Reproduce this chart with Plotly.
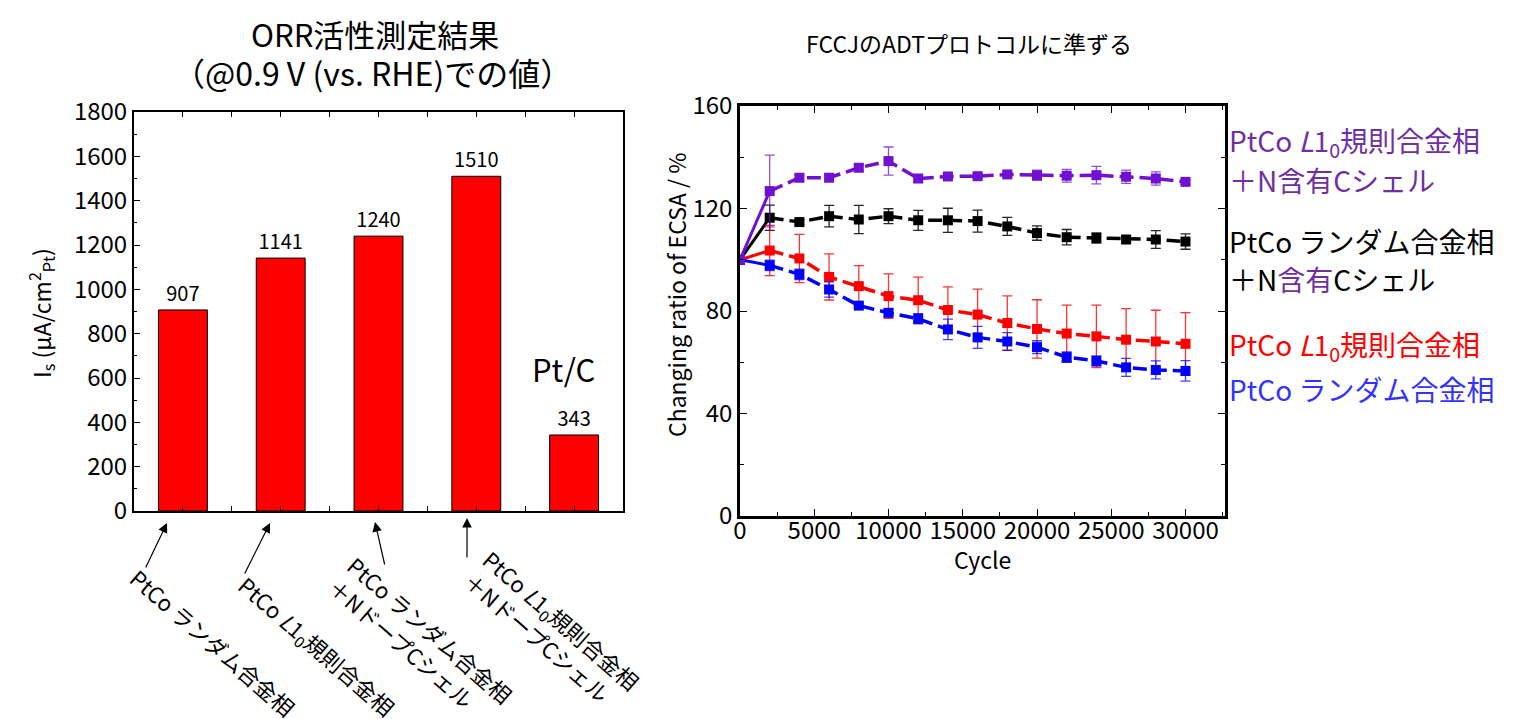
import plotly.graph_objects as go

W, H = 1519, 719
FONT = "Noto Sans CJK JP"

# ---------------- Left chart data ----------------
bar_values = [907, 1141, 1240, 1510, 343]
bar_names = [
    "PtCo ランダム合金相",
    "PtCo <i>L</i>1<sub>0</sub>規則合金相",
    "PtCo ランダム合金相<br>＋NドープCシェル",
    "PtCo <i>L</i>1<sub>0</sub>規則合金相<br>＋NドープCシェル",
    "Pt/C",
]
left_yticks = [0, 200, 400, 600, 800, 1000, 1200, 1400, 1600, 1800]

# ---------------- Right chart data ----------------
cycles = [0, 2000, 4000, 6000, 8000, 10000, 12000, 14000, 16000, 18000,
          20000, 22000, 24000, 26000, 28000, 30000]
purple = [100, 126.8, 132.0, 132.0, 135.9, 138.5, 131.7, 132.5, 132.6, 133.3,
          133.0, 132.8, 133.0, 132.4, 131.7, 130.4]
purple_err = [0, 14, 1, 1, 1, 5.5, 1.5, 1, 1, 1, 2, 2.5, 3.4, 2.6, 2.6, 1]
black = [100, 116.4, 114.7, 117.0, 115.7, 117.0, 115.4, 115.4, 115.1, 113.0,
         110.4, 108.8, 108.5, 107.9, 107.9, 107.1]
black_err = [0, 4.9, 1, 4.2, 5.5, 2.9, 3.9, 4.7, 4.3, 3.5, 2.8, 3, 2, 1.5, 3.5, 3]
red = [100, 103.6, 100.5, 93.3, 89.7, 85.8, 84.2, 80.4, 78.6, 75.3,
       73.0, 71.2, 70.1, 68.8, 68.1, 67.2]
red_err = [0, 9.8, 9.4, 9, 8, 8.7, 9, 9, 9.9, 10.6, 11.4, 11.1, 12.2, 12.1, 12.2, 12.2]
blue = [100, 97.8, 94.3, 88.4, 82.1, 79.3, 77.0, 72.8, 69.7, 68.1,
        65.9, 62.0, 60.5, 58.0, 57.0, 56.6]
blue_err = [0.5, 2, 2, 3, 1, 1.5, 2, 4, 4.3, 3.5, 2.5, 2, 2, 3.5, 3.5, 4]

series = [
    ("black", black, black_err, "#000000", "rgba(0,0,0,0.85)"),
    ("red", red, red_err, "#FF0000", "rgba(255,0,0,0.8)"),
    ("blue", blue, blue_err, "#0000FF", "rgba(0,0,255,0.75)"),
    ("purple", purple, purple_err, "#7010D0", "rgba(112,16,208,0.75)"),
]


def X(px):
    return px / W


def Y(py):
    return 1 - py / H


fig = go.Figure()

# Bars
fig.add_trace(go.Bar(
    x=list(range(len(bar_values))), y=bar_values,
    width=0.5,
    marker=dict(color="#FF0000", line=dict(color="#000000", width=1)),
    text=[str(v) for v in bar_values], textposition="outside",
    textfont=dict(family=FONT, size=20, color="#000"),
    cliponaxis=False, showlegend=False,
    xaxis="x", yaxis="y",
))

# Lines
for name, vals, errs, col, ecol in series:
    # first segment solid
    fig.add_trace(go.Scatter(
        x=cycles[:2], y=vals[:2], mode="lines",
        line=dict(color=col, width=3),
        showlegend=False, xaxis="x2", yaxis="y2", hoverinfo="skip",
    ))
    fig.add_trace(go.Scatter(
        x=cycles[1:], y=vals[1:], mode="lines",
        line=dict(color=col, width=3.5, dash="14px,6px"),
        showlegend=False, xaxis="x2", yaxis="y2", hoverinfo="skip",
    ))
    fig.add_trace(go.Scatter(
        x=cycles, y=vals, mode="markers",
        marker=dict(symbol="square", size=10, color=col),
        error_y=dict(type="data", array=errs, visible=True,
                     color=ecol, thickness=1.3, width=5),
        showlegend=False, xaxis="x2", yaxis="y2", name=name,
    ))

axis_common = dict(showline=True, linecolor="#000", ticks="inside",
                   tickcolor="#000", showgrid=False, zeroline=False,
                   automargin=False)

fig.update_layout(
    width=W, height=H,
    margin=dict(l=0, r=0, t=0, b=0, pad=0, autoexpand=False),
    paper_bgcolor="white", plot_bgcolor="white",
    font=dict(family=FONT, color="#000"),
    xaxis=dict(domain=[X(126), X(615)], range=[-0.5, 4.5],
               tick0=-0.5, dtick=0.5, ticklen=5, linewidth=2,
               showticklabels=False, mirror="ticks", anchor="y", **axis_common),
    yaxis=dict(domain=[Y(503), Y(104)], range=[0, 1800],
               tickvals=left_yticks, ticklen=6, linewidth=2, mirror=True,
               tickfont=dict(size=24, family=FONT),
               minor=dict(dtick=100, ticks="inside", ticklen=3, tickcolor="#000"),
               anchor="x", **axis_common),
    xaxis2=dict(domain=[X(732), X(1217)], range=[0, 32660],
                dtick=5000, ticklen=7, linewidth=2.5, mirror="ticks",
                tickformat="d", ticklabelstandoff=-9,
                tickfont=dict(size=24, family=FONT),
                minor=dict(dtick=2500, ticks="inside", ticklen=4, tickcolor="#000"),
                anchor="y2", **axis_common),
    yaxis2=dict(domain=[Y(508), Y(98)], range=[0, 160],
                dtick=40, ticklen=7, linewidth=2.5, mirror="ticks",
                tickfont=dict(size=24, family=FONT),
                minor=dict(dtick=20, ticks="inside", ticklen=4, tickcolor="#000"),
                anchor="x2", **axis_common),
)

ann = []
# Titles
ann.append(dict(text="ORR活性測定結果", x=X(367), y=Y(25), font=dict(size=31)))
ann.append(dict(text="（@0.9 V (vs. RHE)での値）", x=X(364), y=Y(64), font=dict(size=32)))
ann.append(dict(text="FCCJのADTプロトコルに準ずる", x=X(961), y=Y(35), font=dict(size=23)))
# Axis titles
ann.append(dict(text="I<sub>s</sub> (μA/cm<sup>2</sup><sub>Pt</sub>)", x=X(33), y=Y(305),
                textangle=-90, font=dict(size=23)))
ann.append(dict(text="Changing ratio of ECSA / %", x=X(668), y=Y(287),
                textangle=-90, font=dict(size=23)))
ann.append(dict(text="Cycle", x=X(974), y=Y(551), font=dict(size=23)))
# Pt/C
ann.append(dict(text=bar_names[4], x=X(555), y=Y(360), font=dict(size=31)))

# rotated labels below bars
rot_centers = [(205, 634), (308, 638), (413, 632), (544, 622)]
for name, (cx, cy) in zip(bar_names[:4], rot_centers):
    ann.append(dict(text=name, x=X(cx), y=Y(cy), textangle=41, align="left",
                    font=dict(size=22)))

# arrows (head, tail)
arrows = [((159, 515), (137, 561)), ((262, 515), (236, 567)),
          ((367, 514), (377, 558)), ((459, 510), (459, 551))]
for (hx, hy), (tx, ty) in arrows:
    ann.append(dict(text="", x=X(hx), y=Y(hy), showarrow=True, ax=tx - hx, ay=ty - hy,
                    arrowhead=2, arrowsize=1.6, arrowwidth=1.2, arrowcolor="#000"))

# legend text on right
PURP = "#7030A0"
leg = [
    ("PtCo <i>L</i>1<sub>0</sub>規則合金相", PURP, 134),
    ("＋N含有Cシェル", PURP, 172),
    ("PtCo ランダム合金相", "#000000", 233),
    ("＋N<span style='color:%s'>含有</span>Cシェル" % PURP, "#000000", 271),
    ("PtCo <i>L</i>1<sub>0</sub>規則合金相", "#FF0000", 338),
    ("PtCo ランダム合金相", "#3333FF", 381),
]
for t, c, yy in leg:
    ann.append(dict(text=t, x=X(1219), y=Y(yy), xanchor="left", height=36,
                    font=dict(size=28, color=c)))

for a in ann:
    a.setdefault("xref", "paper")
    a.setdefault("yref", "paper")
    a.setdefault("showarrow", False)
    a.setdefault("xanchor", "center")
    a.setdefault("yanchor", "middle")
    f = a.setdefault("font", {})
    f.setdefault("family", FONT)
    f.setdefault("color", "#000")

fig.update_layout(annotations=ann)
fig.write_html("out.html")
